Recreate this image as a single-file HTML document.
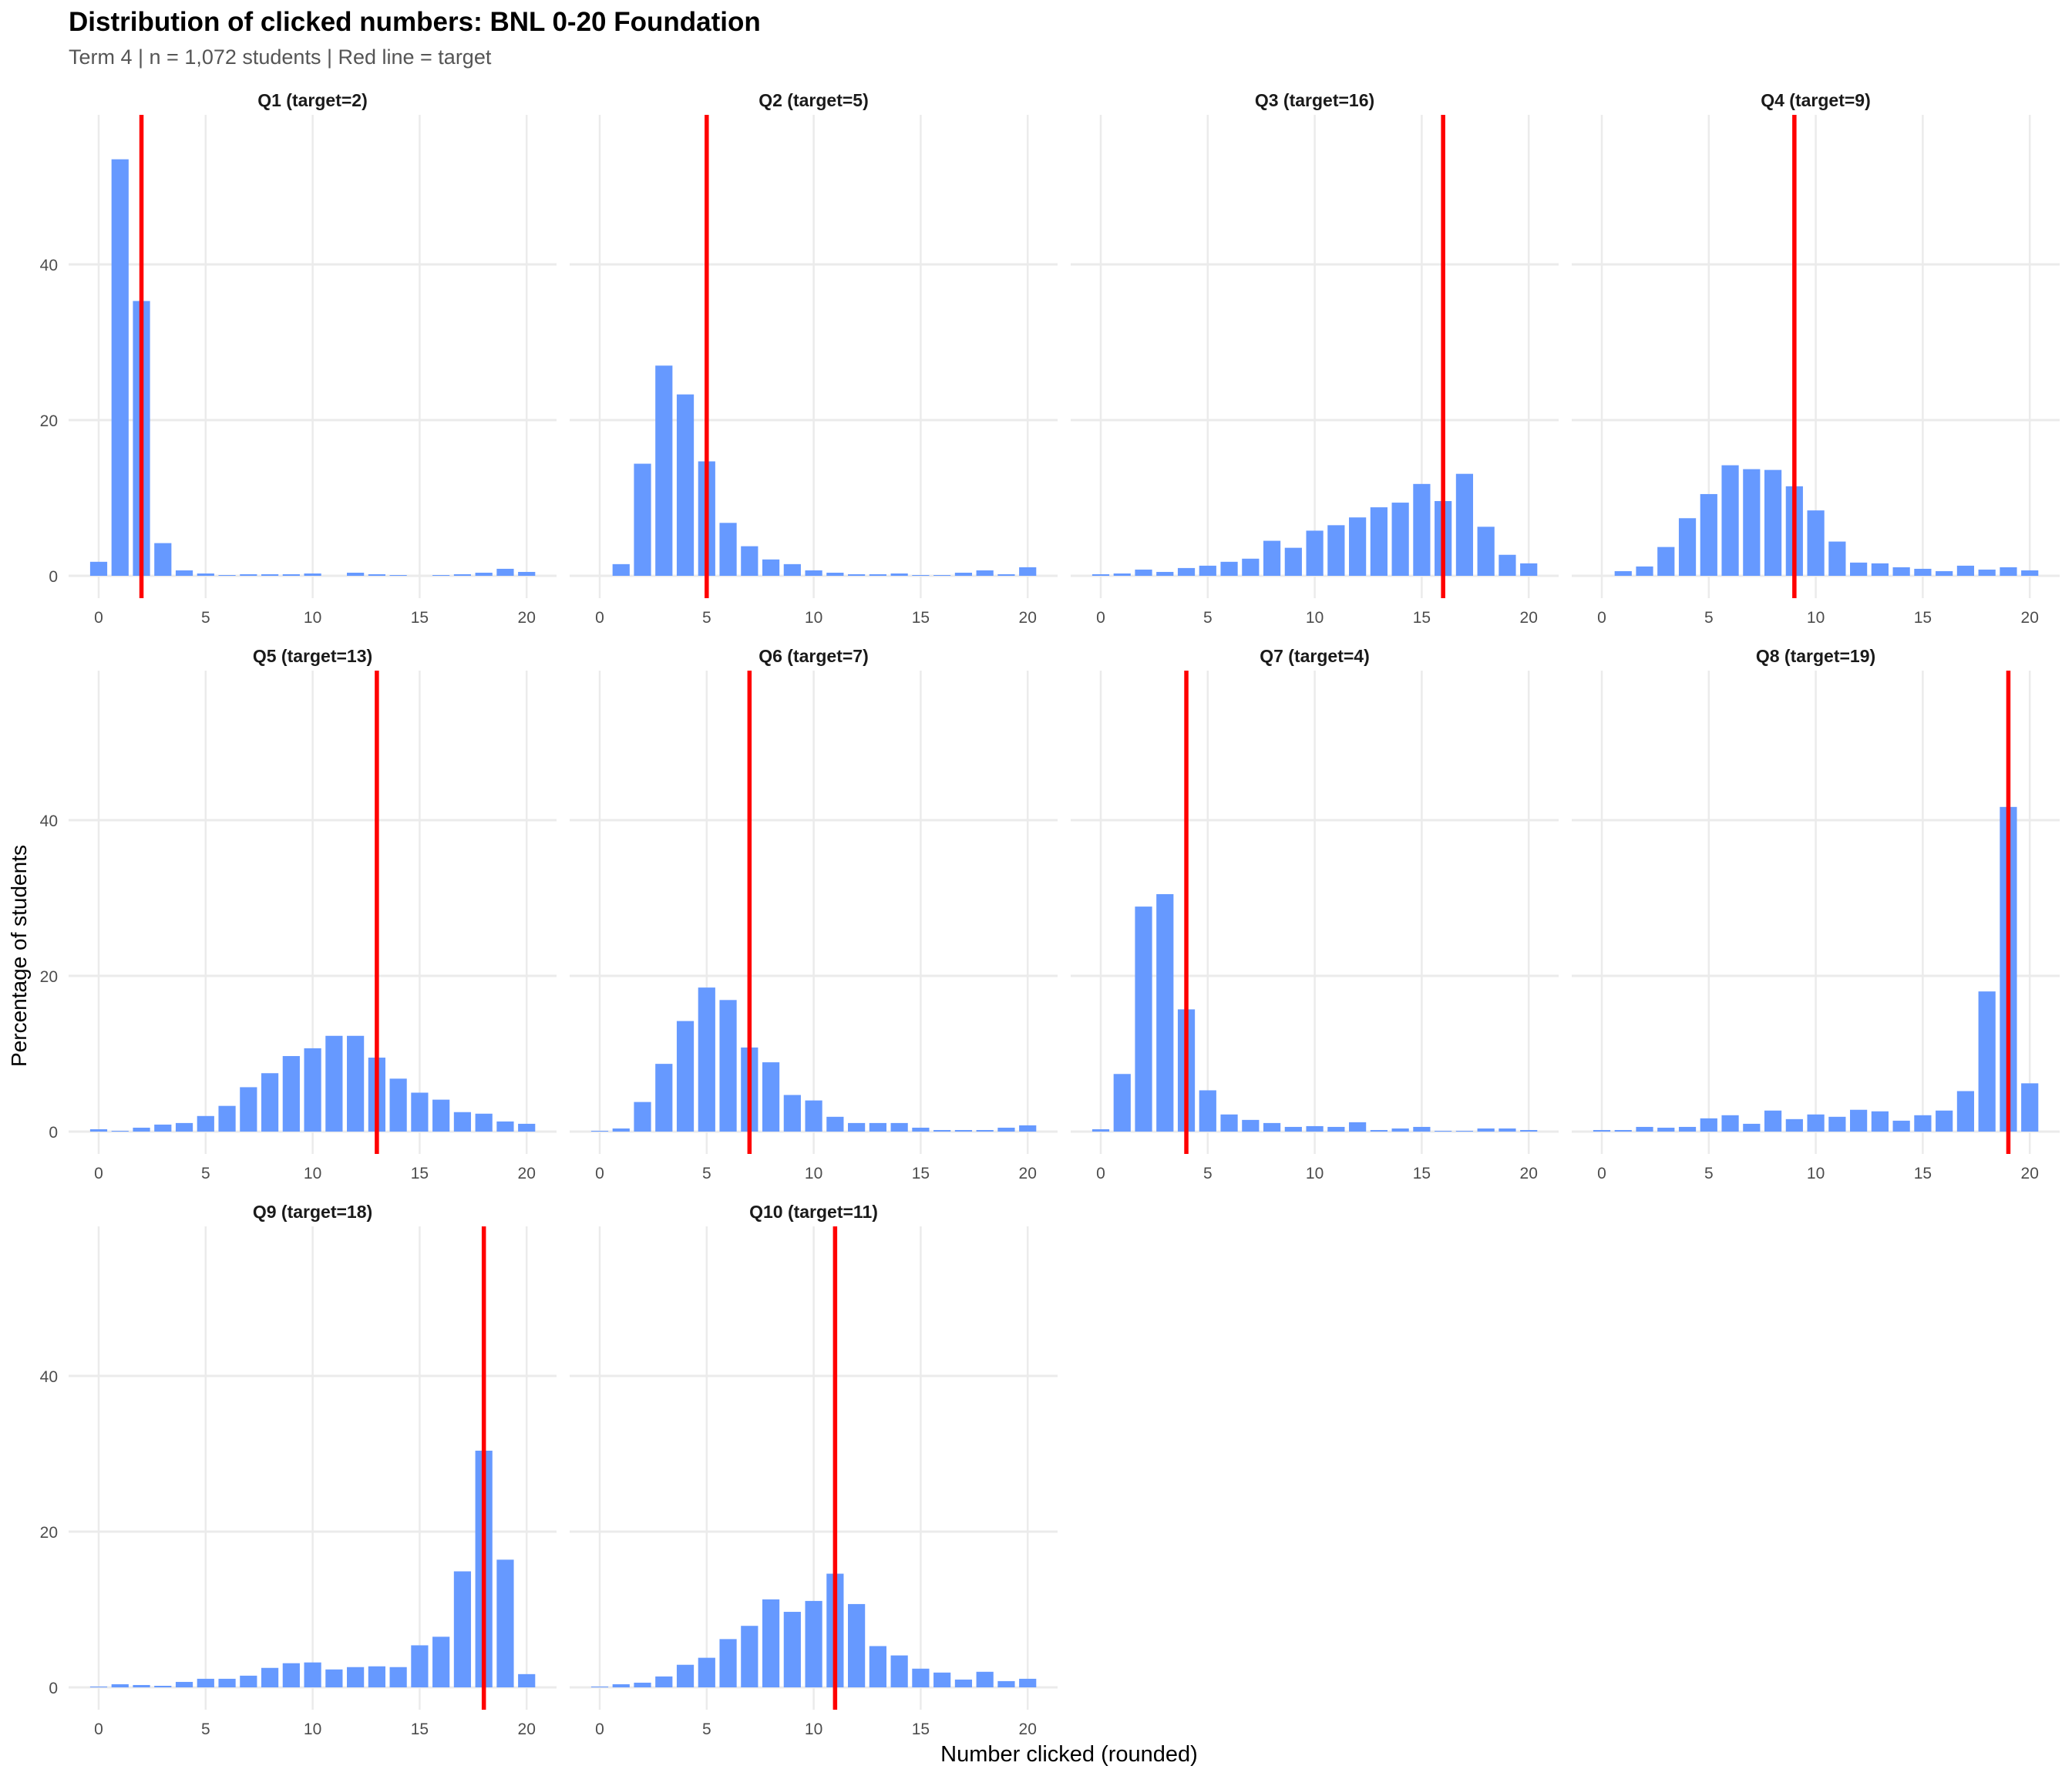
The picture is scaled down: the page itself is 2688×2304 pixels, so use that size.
<!DOCTYPE html>
<html><head><meta charset="utf-8"><style>
html,body{margin:0;padding:0;background:#fff;}
svg{display:block;font-family:"Liberation Sans",Arial,sans-serif;}
</style></head><body>
<svg id="s" width="2688" height="2304" xmlns="http://www.w3.org/2000/svg">
<rect width="2688" height="2304" fill="#fff"/>
<text x="89" y="40" font-size="35" font-weight="bold" fill="#000">Distribution of clicked numbers: BNL 0-20 Foundation</text>
<text x="89" y="83" font-size="27" fill="#555">Term 4 | n = 1,072 students | Red line = target</text>
<text x="1387" y="2285" font-size="29" text-anchor="middle" fill="#000">Number clicked (rounded)</text>
<text transform="translate(34,1240) rotate(-90)" font-size="28" text-anchor="middle" fill="#000">Percentage of students</text>
<g id="g"></g>
</svg>
<script>
var D=[
["Q1 (target=2)",2,[1.8,53.5,35.3,4.2,0.7,0.3,0.1,0.2,0.2,0.2,0.3,0,0.4,0.2,0.1,0,0.1,0.2,0.4,0.9,0.5]],
["Q2 (target=5)",5,[0,1.5,14.4,27,23.3,14.7,6.8,3.8,2.1,1.5,0.7,0.4,0.2,0.2,0.3,0.1,0.1,0.4,0.7,0.2,1.1]],
["Q3 (target=16)",16,[0.2,0.3,0.8,0.5,1,1.3,1.8,2.2,4.5,3.6,5.8,6.5,7.5,8.8,9.4,11.8,9.6,13.1,6.3,2.7,1.6]],
["Q4 (target=9)",9,[0,0.6,1.2,3.7,7.4,10.5,14.2,13.7,13.6,11.5,8.4,4.4,1.7,1.6,1.1,0.9,0.6,1.3,0.8,1.1,0.7]],
["Q5 (target=13)",13,[0.3,0.1,0.5,0.9,1.1,2,3.3,5.7,7.5,9.7,10.7,12.3,12.3,9.5,6.8,5,4.1,2.5,2.3,1.3,1]],
["Q6 (target=7)",7,[0.1,0.4,3.8,8.7,14.2,18.5,16.9,10.8,8.9,4.7,4,1.9,1.1,1.1,1.1,0.5,0.2,0.2,0.2,0.5,0.8]],
["Q7 (target=4)",4,[0.3,7.4,28.9,30.5,15.7,5.3,2.2,1.5,1.1,0.6,0.7,0.6,1.2,0.2,0.4,0.6,0.1,0.1,0.4,0.4,0.2]],
["Q8 (target=19)",19,[0.2,0.2,0.6,0.5,0.6,1.7,2.1,1,2.7,1.6,2.2,1.9,2.8,2.6,1.4,2.1,2.7,5.2,18,41.7,6.2]],
["Q9 (target=18)",18,[0.1,0.4,0.3,0.2,0.7,1.1,1.1,1.5,2.5,3.1,3.2,2.3,2.6,2.7,2.6,5.4,6.5,14.9,30.4,16.4,1.7]],
["Q10 (target=11)",11,[0.1,0.4,0.6,1.4,2.9,3.8,6.2,7.9,11.3,9.7,11.1,14.6,10.7,5.3,4.1,2.4,1.9,1,2,0.8,1.1]]
];
var h="",ppu=10.1,ux=27.76;
D.forEach(function(d,i){
 var c=i%4,r=Math.floor(i/4);
 var L=89+c*650,W=633,y0=747+r*721,top=y0-598,bot=y0+29;
 var X=function(v){return L+39+v*ux;};
 h+='<text x="'+(L+W/2)+'" y="'+(top-11)+'" font-size="23" font-weight="bold" text-anchor="middle" fill="#1a1a1a">'+d[0]+'</text>';
 for(var t=0;t<=20;t+=5){h+='<line x1="'+X(t)+'" x2="'+X(t)+'" y1="'+top+'" y2="'+bot+'" stroke="#ebebeb" stroke-width="2.5"/>';
  h+='<text x="'+X(t)+'" y="'+(y0+61)+'" font-size="21" text-anchor="middle" fill="#4d4d4d">'+t+'</text>';}
 [0,20,40].forEach(function(v){var y=y0-v*ppu;h+='<line x1="'+L+'" x2="'+(L+W)+'" y1="'+y+'" y2="'+y+'" stroke="#ebebeb" stroke-width="3"/>';
  if(c==0)h+='<text x="'+(L-14)+'" y="'+(y+8)+'" font-size="21" text-anchor="end" fill="#4d4d4d">'+v+'</text>';});
 d[2].forEach(function(v,k){if(v<=0)return;var hh=v*ppu;h+='<rect x="'+(X(k)-11.1)+'" y="'+(y0-hh)+'" width="22.2" height="'+hh+'" fill="#6699ff"/>';});
 h+='<line x1="'+X(d[1])+'" x2="'+X(d[1])+'" y1="'+top+'" y2="'+bot+'" stroke="#ff0000" stroke-width="5.5"/>';
});
document.getElementById("g").innerHTML=h;
</script>
</body></html>
